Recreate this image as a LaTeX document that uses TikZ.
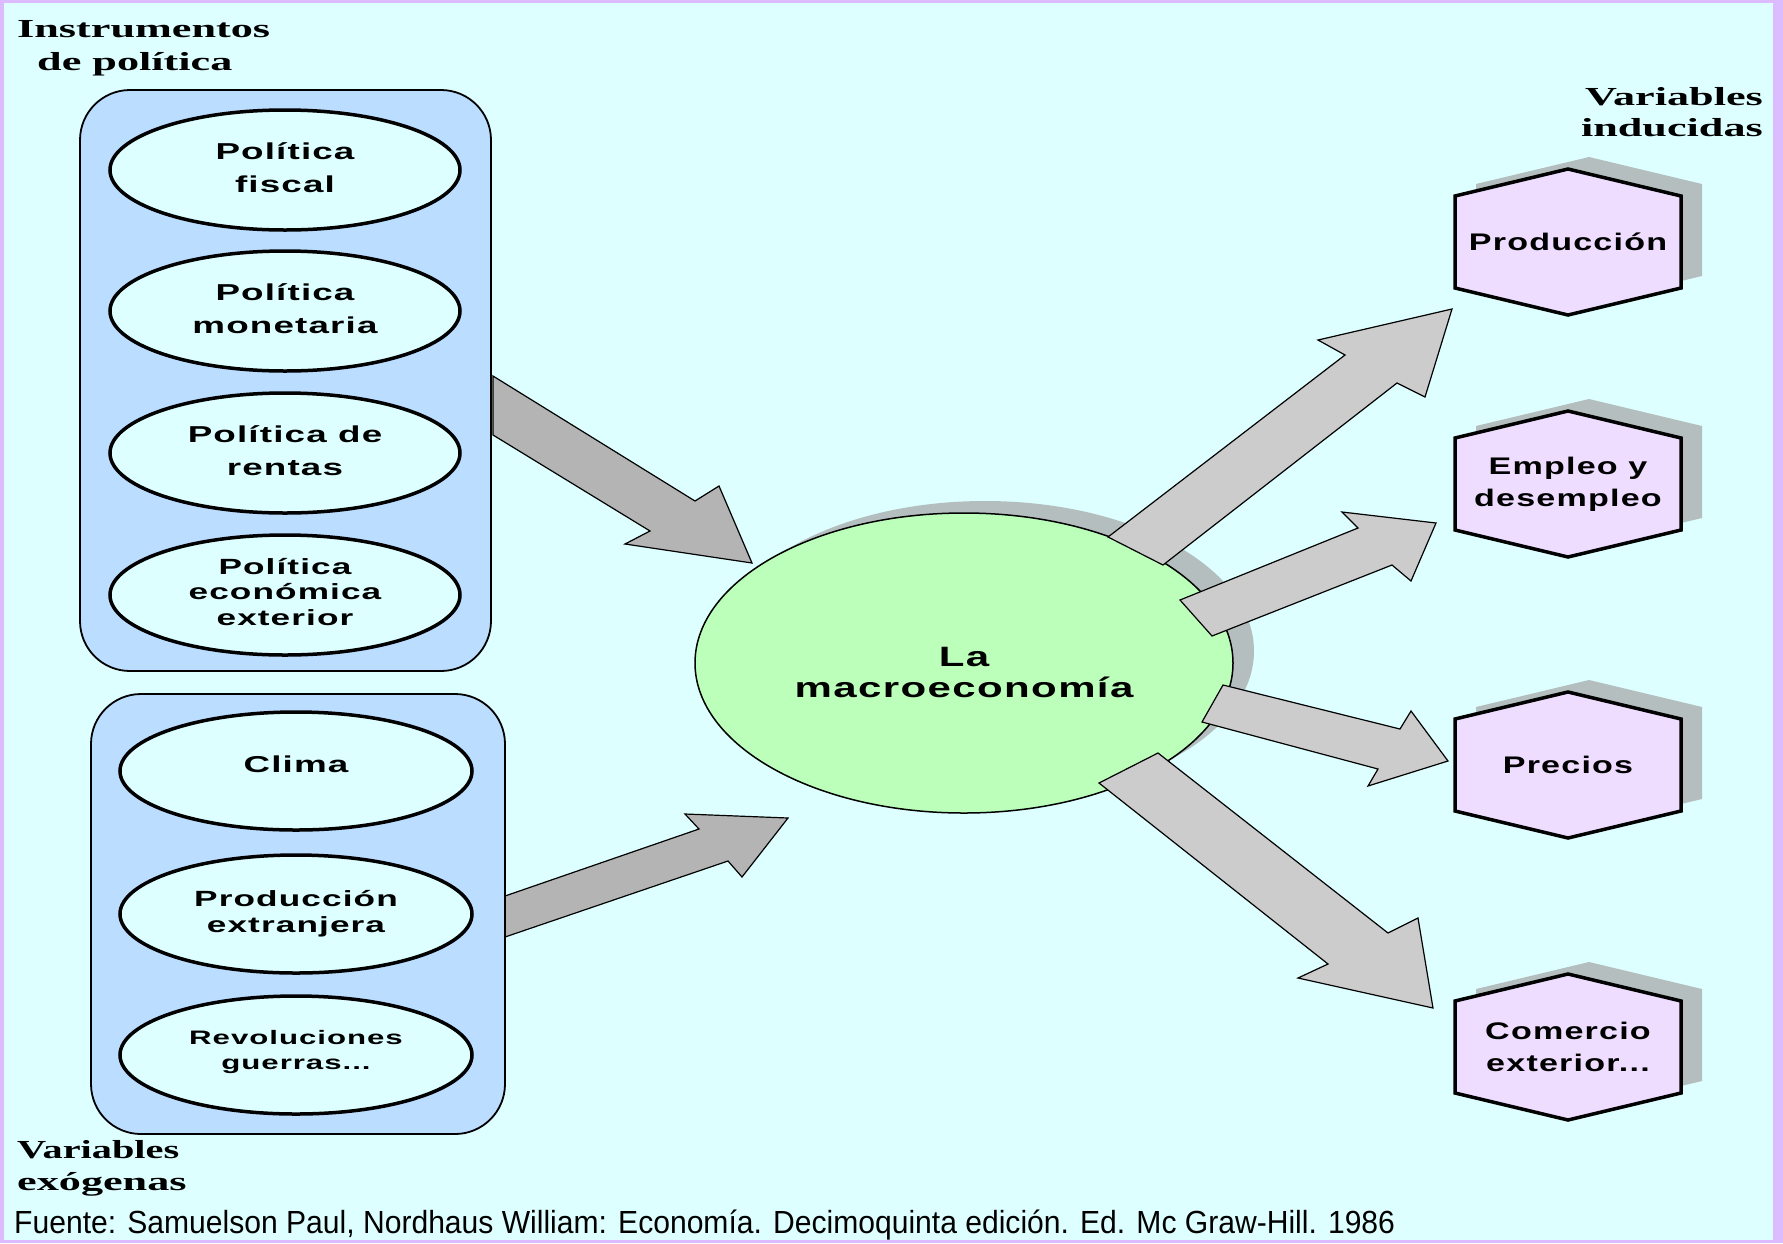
\documentclass[tikz,border=0pt]{standalone}
\usepackage{fontspec}
\usetikzlibrary{shapes.geometric,shadows}
\newfontfamily\serfont[FakeStretch=1.7]{Liberation Serif}
\newfontfamily\serfontb[FakeStretch=1.55]{Liberation Serif}
\newfontfamily\boxfont[FakeStretch=1.6,LetterSpace=5]{Liberation Sans}
\newfontfamily\macfont[FakeStretch=1.5,LetterSpace=5]{Liberation Sans}
\newfontfamily\hexfont[FakeStretch=1.42,LetterSpace=5]{Liberation Sans}
\newfontfamily\footfont[FakeStretch=0.94]{Liberation Sans}
\definecolor{frame}{HTML}{DDBBFF}
\definecolor{bg}{HTML}{DDFFFF}
\definecolor{boxblue}{HTML}{BBDDFF}
\definecolor{green}{HTML}{BBFFBB}
\definecolor{hexfill}{HTML}{EEDDFF}
\definecolor{arrowL}{HTML}{B4B4B4}
\definecolor{arrowR}{HTML}{CCCCCC}
\definecolor{shadowc}{HTML}{B4BEBE}
\tikzset{
  group/.style={draw=black,line width=1.8pt,fill=boxblue,rounded corners=50pt},
  oval/.style={ellipse,draw=black,line width=3.5pt,fill=bg,minimum width=350pt,minimum height=120pt,inner sep=0pt},
  ovaltext/.style={align=center,font=\boxfont\bfseries\fontsize{23}{33}\selectfont,inner sep=0pt},
  hexbox/.style={draw=black,line width=3.5pt,fill=hexfill,line join=miter},
  hextext/.style={align=center,font=\hexfont\bfseries\fontsize{24}{32}\selectfont,inner sep=0pt},
  blockL/.style={draw=black,line width=1.2pt,fill=arrowL,line join=miter},
  blockR/.style={draw=black,line width=1.2pt,fill=arrowR,line join=miter},
  title/.style={font=\serfont\bfseries\fontsize{26}{31}\selectfont,inner sep=0pt},
}
\newcommand\hexa[4]{%
  \begin{scope}[shift={(#2+21,#3-12)}]
    \fill[shadowc] (-113,-46) -- (0,-73) -- (113,-46) -- (113,46) -- (0,73) -- (-113,46) -- cycle;
  \end{scope}
  \begin{scope}[shift={(#2,#3)}]
    \draw[hexbox] (-113,-46) -- (0,-73) -- (113,-46) -- (113,46) -- (0,73) -- (-113,46) -- cycle;
  \end{scope}
  \node[hextext] (#1) at (#2,#3) {#4};}
\begin{document}
\begin{tikzpicture}[x=1pt,y=-1pt]
\useasboundingbox (0,0) rectangle (1783,1243);
\fill[frame] (0,0) rectangle (1783,1243);
\fill[bg] (4,3) rectangle (1773,1240);

% titles
\node[title,anchor=base west] (t1) at (17,37) {Instrumentos};
\node[title,anchor=base west] (t2) at (37,70) {de política};
\node[title,anchor=base east] (t3) at (1763,105) {Variables};
\node[title,anchor=base east] (t4) at (1763,136) {inducidas};
\node[title,font=\serfontb\bfseries\fontsize{26}{31}\selectfont,anchor=base west] (t5) at (17,1158) {Variables};
\node[title,anchor=base west] (t6) at (17,1190) {exógenas};
\node[anchor=base west,inner sep=0pt,font=\footfont\fontsize{32}{34}\selectfont] (src) at (14,1233)
  {Fuente: Samuelson Paul, Nordhaus William: Economía. Decimoquinta edición. Ed. Mc Graw-Hill. 1986};

% arrows on the left
\draw[blockL] (493,376) -- (695,501) -- (719,486) -- (752,563) -- (625,544) -- (650,531) -- (493,435) -- cycle;
\draw[blockL] (505,896) -- (699,829) -- (685,814) -- (788,818) -- (742,877) -- (728,861) -- (505,937) -- cycle;

% groups
\draw[group] (80,90) rectangle (491,671);
\draw[group] (91,694) rectangle (505,1134);

\node[oval] (fiscal) at (285,170) {};
\node[ovaltext] (fiscalt) at (285,168) {Política\\fiscal};
\node[oval] (monet) at (285,311) {};
\node[ovaltext] (monett) at (285,309) {Política\\monetaria};
\node[oval] (rentas) at (285,453) {};
\node[ovaltext] (rentast) at (285,451) {Política de\\rentas};
\node[oval] (exter) at (285,595) {};
\node[ovaltext,font=\boxfont\bfseries\fontsize{22}{25.5}\selectfont] (extert) at (285,592) {Política\\económica\\exterior};

\node[oval,minimum width=352pt,minimum height=118pt] (clima) at (296,771) {};
\node[ovaltext] (climat) at (296,764) {Clima};
\node[oval,minimum width=352pt,minimum height=118pt] (prodext) at (296,914) {};
\node[ovaltext,font=\boxfont\bfseries\fontsize{22}{26}\selectfont] (prodextt) at (296,914) {Producción\\extranjera};
\node[oval,minimum width=352pt,minimum height=118pt] (revol) at (296,1055) {};
\node[ovaltext,font=\boxfont\bfseries\fontsize{19.5}{25}\selectfont] (revolt) at (296,1052) {Revoluciones\\guerras...};

% central ellipse
\node[ellipse,draw=black,line width=1.5pt,fill=green,minimum width=538pt,minimum height=300pt,
  general shadow={fill=shadowc,shadow xshift=21pt,shadow yshift=12pt}] (macro) at (964,663) {};
\node[align=center,inner sep=0pt,font=\macfont\bfseries\fontsize{28}{31}\selectfont] (macrot) at (964,672) {La\\macroeconomía};

% arrows on the right
\draw[blockR] (1108,537) -- (1345,355) -- (1318,340) -- (1452,309) -- (1425,397) -- (1397,383) -- (1163,565) -- cycle;
\draw[blockR] (1180,600) -- (1358,528) -- (1342,512) -- (1436,523) -- (1411,581) -- (1392,565) -- (1212,636) -- cycle;
\draw[blockR] (1223,685) -- (1400,729) -- (1411,711) -- (1448,761) -- (1368,786) -- (1378,769) -- (1202,722) -- cycle;
\draw[blockR] (1158,753) -- (1388,933) -- (1418,918) -- (1433,1008) -- (1298,978) -- (1328,964) -- (1099,783) -- cycle;

% hexagons
\hexa{prod}{1568}{242}{Producción}
\hexa{empleo}{1568}{484}{Empleo y\\desempleo}
\hexa{precios}{1568}{765}{Precios}
\hexa{comercio}{1568}{1047}{Comercio\\exterior...}
\end{tikzpicture}
\end{document}
